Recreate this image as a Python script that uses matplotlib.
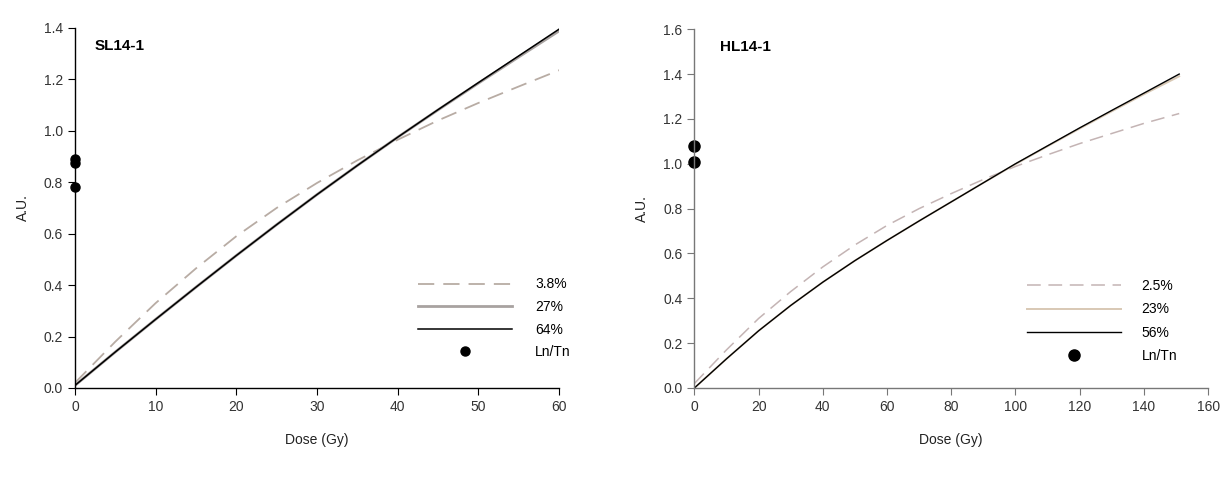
import numpy as np
import matplotlib.pyplot as plt

plt.rcParams['font.family'] = ['Liberation Sans', 'DejaVu Sans']
plt.rcParams['font.size'] = 10

# SL14-1 dose response curves
sl_dose = [0, 5, 10, 15, 20, 25, 30, 35, 40, 45, 50, 55, 60]
sl_38 = [0.02, 0.18, 0.33, 0.465, 0.59, 0.70, 0.797, 0.885, 0.965, 1.04, 1.108, 1.172, 1.235]
sl_27 = [0.01, 0.14, 0.267, 0.392, 0.515, 0.635, 0.752, 0.865, 0.975, 1.081, 1.185, 1.287, 1.388]
sl_64 = [0.01, 0.14, 0.267, 0.392, 0.515, 0.635, 0.752, 0.865, 0.975, 1.082, 1.187, 1.291, 1.395]
sl_lntn = [0.89, 0.875, 0.78]

# HL14-1 dose response curves
hl_dose = [0, 10, 20, 30, 40, 50, 60, 70, 80, 90, 100, 110, 120, 130, 140, 151]
hl_25 = [0.02, 0.17, 0.31, 0.43, 0.54, 0.638, 0.725, 0.80, 0.867, 0.93, 0.988, 1.04, 1.09, 1.135, 1.18, 1.224]
hl_23 = [0.0, 0.13, 0.255, 0.368, 0.472, 0.568, 0.658, 0.745, 0.83, 0.915, 0.998, 1.078, 1.157, 1.234, 1.31, 1.39]
hl_56 = [0.0, 0.13, 0.255, 0.368, 0.472, 0.568, 0.658, 0.745, 0.83, 0.915, 1.0, 1.08, 1.16, 1.238, 1.315, 1.40]
hl_lntn = [1.08, 1.01]

fig = plt.figure(figsize=(12.29, 4.79), dpi=100)
ax1 = fig.add_axes([0.061, 0.190, 0.394, 0.752])
ax2 = fig.add_axes([0.565, 0.190, 0.418, 0.749])


def style(ax, spine_col):
    for s in ['top', 'right']:
        ax.spines[s].set_visible(False)
    for s in ['left', 'bottom']:
        ax.spines[s].set_color(spine_col)
        ax.spines[s].set_linewidth(1.0)
    ax.tick_params(direction='out', length=5, color=spine_col, labelcolor='#333333', labelsize=10)
    ax.set_xlabel('Dose (Gy)', fontsize=10, color='#222222', labelpad=14)
    ax.set_ylabel('A.U.', fontsize=10, color='#222222', labelpad=10)
    ax.yaxis.set_major_formatter(plt.FormatStrFormatter('%.1f'))


ax1.plot(sl_dose, sl_38, color='#b8aca4', lw=1.3, dashes=(9, 5), label='3.8%')
ax1.plot(sl_dose, sl_27, color='#a8a2a0', lw=2.0, label='27%')
ax1.plot(sl_dose, sl_64, color='black', lw=1.1, label='64%')
ax1.plot([0] * len(sl_lntn), sl_lntn, 'o', color='black', ms=6.5, clip_on=False, label='Ln/Tn')
ax1.set_xlim(0, 60)
ax1.set_ylim(0, 1.4)
ax1.set_xticks(range(0, 61, 10))
ax1.set_yticks(np.arange(0, 1.41, 0.2))
style(ax1, 'black')
ax1.text(0.04, 0.95, 'SL14-1', transform=ax1.transAxes, fontsize=11, fontweight='bold', va='center')
ax1.legend(loc='lower right', bbox_to_anchor=(1.05, 0.045), frameon=False, handlelength=6.8,
           handletextpad=1.65, labelspacing=0.62, fontsize=10)

ax2.plot(hl_dose, hl_25, color='#c4b4b4', lw=1.1, dashes=(9, 5), label='2.5%')
ax2.plot(hl_dose, hl_23, color='#d8c8b4', lw=1.4, label='23%')
ax2.plot(hl_dose, hl_56, color='black', lw=1.0, label='56%')
ax2.plot([0] * len(hl_lntn), hl_lntn, 'o', color='black', ms=8, clip_on=False, label='Ln/Tn')
ax2.set_xlim(0, 160)
ax2.set_ylim(0, 1.6)
ax2.set_xticks(range(0, 161, 20))
ax2.set_yticks(np.arange(0, 1.61, 0.2))
style(ax2, '#777777')
ax2.text(0.05, 0.95, 'HL14-1', transform=ax2.transAxes, fontsize=11, fontweight='bold', va='center')
ax2.legend(loc='lower right', bbox_to_anchor=(0.964, 0.034), frameon=False, handlelength=6.8,
           handletextpad=1.45, labelspacing=0.68, fontsize=10)

fig.savefig('out.png', dpi=100)
